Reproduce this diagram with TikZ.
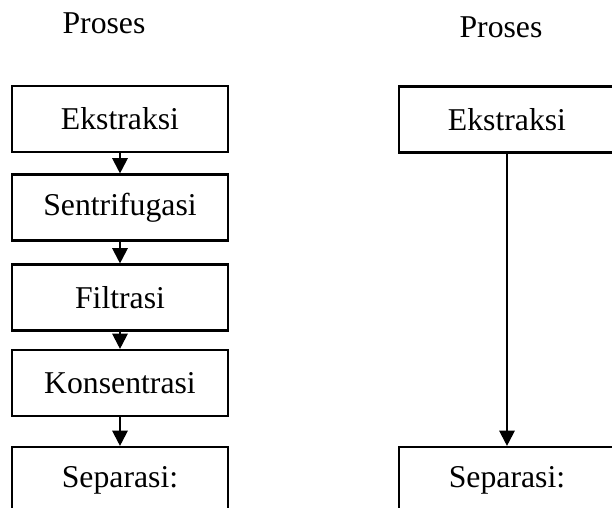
\documentclass[tikz,border=0pt]{standalone}
\usepackage{fontspec}
\setmainfont{Liberation Serif}
\usetikzlibrary{arrows.meta}
\begin{document}
\begin{tikzpicture}[x=0.75pt,y=-0.75pt,
  procbox/.style={draw,line width=1.6pt,minimum width=162pt,minimum height=49.5pt,inner sep=0pt,font=\fontsize{23.8}{28}\selectfont},
  lbl/.style={anchor=base,inner sep=0pt,font=\fontsize{23.8}{28}\selectfont},
  flow/.style={line width=1.6pt,-{Triangle[length=11.5pt,width=11.5pt]}}]
\useasboundingbox (0,0) rectangle (612,508);
\clip (0,0) rectangle (612,508);
\node[lbl] (p1) at (104,33) {Proses};
\node[lbl] (p2) at (501,37) {Proses};
\node[procbox] (l1) at (120,119) {Ekstraksi};
\node[procbox] (l2) at (120,207.5) {Sentrifugasi};
\node[procbox] (l3) at (120,297.5) {Filtrasi};
\node[procbox] (l4) at (120,383) {Konsentrasi};
\node[procbox] (l5) at (120,480) {Separasi:};
\node[procbox] (r1) at (507,119.5) {Ekstraksi};
\node[procbox] (r2) at (507,480) {Separasi:};
\draw[flow] (l1) -- (l2);
\draw[flow] (l2) -- (l3);
\draw[flow] (l3) -- (l4);
\draw[flow] (l4) -- (l5);
\draw[flow] (r1) -- (r2);
\end{tikzpicture}
\end{document}
